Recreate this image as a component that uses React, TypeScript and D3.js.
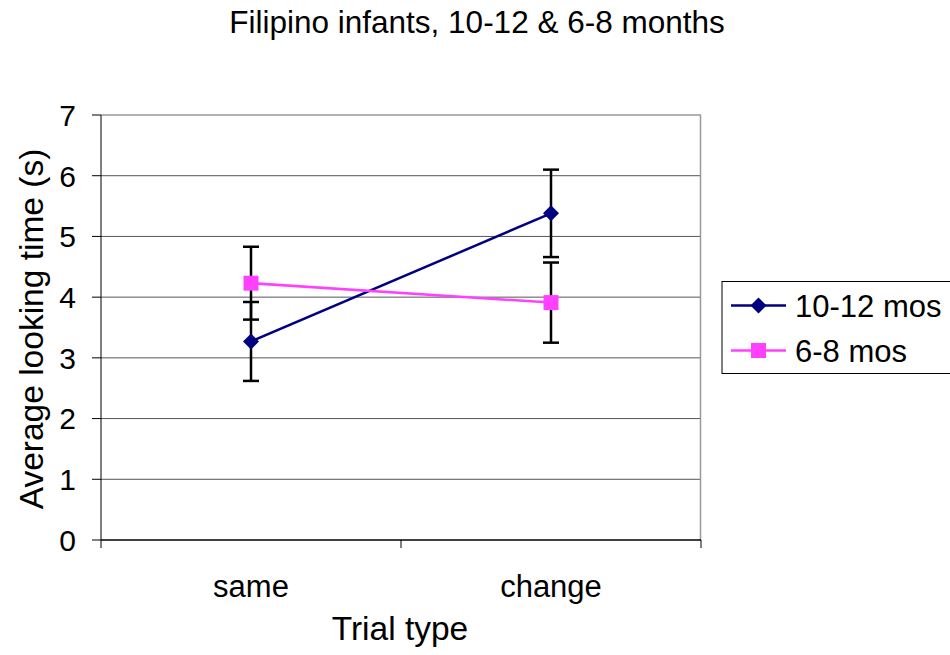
import React from "react";
import * as d3 from "d3";

const categories = ["same", "change"];
const yTicks = [0, 1, 2, 3, 4, 5, 6, 7];

const series = [
  { name: "10-12 mos", values: [3.27, 5.38], errors: [0.65, 0.72], color: "#000080", marker: "diamond" },
  { name: "6-8 mos", values: [4.23, 3.91], errors: [0.6, 0.66], color: "#FF40FF", marker: "square" },
];

const width = 950;
const height = 655;
const margin = { top: 115, left: 101, right: 249, bottom: 115 };
const font = "Arial, 'Liberation Sans', sans-serif";

export default function App() {
  const iwidth = width - margin.left - margin.right;
  const iheight = height - margin.top - margin.bottom;

  const x = d3.scaleBand().domain(categories).range([0, iwidth]).padding(0);
  const y = d3.scaleLinear().domain([0, 7]).range([iheight, 0]);
  const cx = (c: string) => (x(c) as number) + x.bandwidth() / 2;

  const line = d3
    .line<number>()
    .x((_, i) => cx(categories[i]))
    .y((d) => y(d));

  const marker = (type: string, px: number, py: number, color: string, key: string) =>
    type === "diamond" ? (
      <path key={key} d={`M${px},${py - 8}L${px + 8},${py}L${px},${py + 8}L${px - 8},${py}Z`} fill={color} />
    ) : (
      <rect key={key} x={px - 7.5} y={py - 7.5} width={15} height={15} fill={color} />
    );

  return (
    <svg
      width={width}
      height={height}
      style={{ position: "absolute", left: 0, top: 0, background: "#fff" }}
      fontFamily={font}
    >
      <text x={477} y={33} fontSize={31.5} textAnchor="middle">
        Filipino infants, 10-12 &amp; 6-8 months
      </text>

      <g transform={`translate(${margin.left},${margin.top})`}>
        {yTicks.slice(1, -1).map((t) => (
          <line key={t} x1={0} x2={iwidth} y1={y(t)} y2={y(t)} stroke="#555" strokeWidth={1} />
        ))}
        <line x1={0} x2={iwidth} y1={y(7)} y2={y(7)} stroke="#999" strokeWidth={1.5} />
        <line x1={iwidth - 0.5} x2={iwidth - 0.5} y1={0} y2={iheight} stroke="#999" strokeWidth={1.5} />

        {/* axes */}
        <line x1={0} x2={0} y1={0} y2={iheight} stroke="#000" strokeWidth={1} />
        <line x1={0} x2={iwidth} y1={iheight} y2={iheight} stroke="#000" strokeWidth={1.5} />
        {yTicks.map((t) => (
          <g key={t}>
            <line x1={-9} x2={0} y1={y(t)} y2={y(t)} stroke="#000" />
            <text x={-25} y={y(t)} dy="0.36em" fontSize={30} textAnchor="end">
              {t}
            </text>
          </g>
        ))}
        {[0, x.bandwidth(), 2 * x.bandwidth()].map((v) => (
          <line key={v} x1={v} x2={v} y1={iheight} y2={iheight + 8} stroke="#000" />
        ))}
        {categories.map((c) => (
          <text key={c} x={cx(c)} y={iheight + 57} fontSize={31} textAnchor="middle">
            {c}
          </text>
        ))}

        {/* error bars */}
        {series.map((s) =>
          s.values.map((v, i) => {
            const px = cx(categories[i]);
            const hi = y(v + s.errors[i]);
            const lo = y(v - s.errors[i]);
            return (
              <g key={s.name + i} stroke="#000" strokeWidth={2.5}>
                <line x1={px} x2={px} y1={hi} y2={lo} />
                <line x1={px - 8} x2={px + 8} y1={hi} y2={hi} />
                <line x1={px - 8} x2={px + 8} y1={lo} y2={lo} />
              </g>
            );
          })
        )}

        {series.map((s) => (
          <path key={s.name} d={line(s.values) as string} fill="none" stroke={s.color} strokeWidth={2.5} />
        ))}
        {series.map((s) => s.values.map((v, i) => marker(s.marker, cx(categories[i]), y(v), s.color, s.name + i)))}
      </g>

      <text x={400} y={640} fontSize={33.5} textAnchor="middle">
        Trial type
      </text>
      <text transform={`translate(43,329) rotate(-90)`} fontSize={33.5} textAnchor="middle">
        Average looking time (s)
      </text>

      {/* legend */}
      <rect x={722} y={281.5} width={240} height={92} fill="#fff" stroke="#000" strokeWidth={1} />
      {series.map((s, i) => {
        const ly = 305.5 + i * 45;
        return (
          <g key={s.name}>
            <line x1={731} x2={786} y1={ly} y2={ly} stroke={s.color} strokeWidth={2.5} />
            {marker(s.marker, 758.5, ly, s.color, "lg" + i)}
            <text x={795} y={ly} dy="0.36em" fontSize={31}>
              {s.name}
            </text>
          </g>
        );
      })}
    </svg>
  );
}
